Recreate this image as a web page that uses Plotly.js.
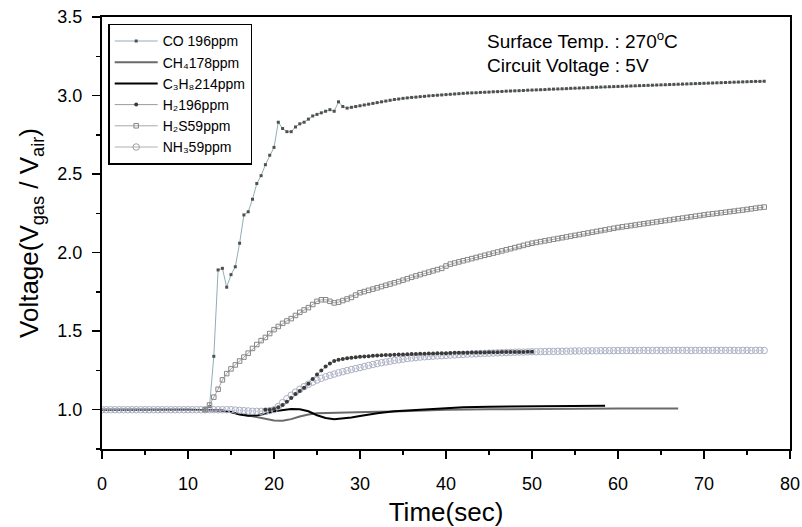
<!DOCTYPE html>
<html>
<head>
<meta charset="utf-8">
<script src="https://cdn.plot.ly/plotly-3.0.1.min.js"></script>
<style>html,body{margin:0;padding:0;background:#fff;}#chart{width:802px;height:527px;}</style>
</head>
<body>
<div id="chart"></div>
<script>
// Sampling grid (sec), 0.5 s steps
const time = [
0,0.5,1,1.5,2,2.5,3,3.5,4,4.5,5,5.5,6,6.5,7,7.5,8,8.5,9,9.5,
10,10.5,11,11.5,12,12.5,13,13.5,14,14.5,15,15.5,16,16.5,17,17.5,18,18.5,19,19.5,
20,20.5,21,21.5,22,22.5,23,23.5,24,24.5,25,25.5,26,26.5,27,27.5,28,28.5,29,29.5,
30,30.5,31,31.5,32,32.5,33,33.5,34,34.5,35,35.5,36,36.5,37,37.5,38,38.5,39,39.5,
40,40.5,41,41.5,42,42.5,43,43.5,44,44.5,45,45.5,46,46.5,47,47.5,48,48.5,49,49.5,
50,50.5,51,51.5,52,52.5,53,53.5,54,54.5,55,55.5,56,56.5,57,57.5,58,58.5,59,59.5,
60,60.5,61,61.5,62,62.5,63,63.5,64,64.5,65,65.5,66,66.5,67,67.5,68,68.5,69,69.5,
70,70.5,71,71.5,72,72.5,73,73.5,74,74.5,75,75.5,76,76.5,77
];

// CO 196ppm, from 12 s
const coStart = 12;
const coValues = [
1.0,1.02,1.34,1.89,1.90,1.78,1.86,1.91,2.06,2.24,
2.26,2.34,2.44,2.49,2.56,2.62,2.67,2.83,2.79,2.77,
2.77,2.80,2.82,2.83,2.85,2.87,2.88,2.89,2.90,2.91,
2.90,2.96,2.93,2.92,2.925,2.93,2.935,2.94,2.945,2.95,
2.955,2.96,2.965,2.97,2.975,2.978,2.982,2.985,2.988,2.99,
2.993,2.995,2.998,3.0,3.002,3.004,3.006,
3.008,3.01,3.012,3.014,3.016,3.017,3.018,3.02,3.021,3.022,
3.024,3.025,3.026,3.028,3.029,3.03,3.031,3.032,3.034,3.035,
3.036,3.037,3.038,3.04,3.041,3.042,3.043,3.044,3.046,3.047,
3.048,3.049,3.05,3.052,3.053,3.054,3.055,3.056,3.057,3.058,
3.059,3.06,3.061,3.062,3.063,3.064,3.065,3.066,3.067,3.068,
3.069,3.07,3.071,3.072,3.073,3.074,3.075,3.076,3.077,3.078,
3.079,3.08,3.081,3.082,3.083,3.084,3.085,3.086,3.087,3.088,
3.089,3.09,3.09,3.091
];

// CH4 178ppm (grey solid line)
const ch4Time = [0,5,10,14,15,16,17,18,19,20,21,22,23,24,25,26,28,30,32,34,36,38,40,45,50,53,54,60,67];
const ch4Values = [1,1,1,0.995,0.985,0.975,0.965,0.955,0.945,0.932,0.93,0.94,0.957,0.97,0.977,0.979,0.982,0.985,0.987,0.989,0.993,0.997,1.0,1.003,1.005,1.006,1.008,1.008,1.008];

// C3H8 214ppm (black solid line)
const c3h8Time = [0,5,10,14,15,16,17,18,19,20,21,22,23,24,25,26,27,28,29,30,31,32,34,36,38,40,42,45,50,55,58.5];
const c3h8Values = [1,1,1,0.995,0.985,0.97,0.962,0.965,0.975,0.99,0.998,1.004,1.003,0.99,0.965,0.948,0.94,0.943,0.95,0.96,0.97,0.978,0.99,0.997,1.003,1.008,1.015,1.019,1.022,1.025,1.025];

// H2 196ppm, from 19 s
const h2Start = 19;
const h2Values = [
1.0,1.0,1.005,1.015,1.03,1.05,1.075,1.1,1.12,1.14,
1.165,1.195,1.225,1.25,1.275,1.295,1.31,1.318,1.323,1.327,
1.331,1.334,1.337,1.339,1.341,1.343,1.345,1.346,1.348,1.349,
1.35,1.351,1.352,1.353,1.354,1.355,1.356,1.357,1.358,1.358,
1.359,1.36,1.36,1.361,1.362,1.362,1.363,1.363,1.364,1.364,
1.365,1.365,1.366,1.366,1.366,1.367,1.367,1.367,1.368,1.368,
1.368,1.369,1.369
];

// H2S 59ppm, from 12 s
const h2sStart = 12;
const h2sValues = [
1.0,1.03,1.08,1.13,1.19,1.23,1.26,1.285,1.31,1.335,
1.36,1.39,1.415,1.44,1.46,1.485,1.51,1.53,1.55,1.565,
1.58,1.60,1.62,1.635,1.65,1.67,1.69,1.70,1.70,1.69,
1.68,1.685,1.695,1.705,1.715,1.73,1.745,1.752,1.76,1.768,
1.776,1.784,1.792,1.80,1.808,1.816,1.825,1.834,1.843,1.852,
1.86,1.868,1.876,1.884,1.892,1.90,1.915,
1.927,1.934,1.941,1.948,1.955,1.962,1.969,1.976,1.983,1.99,
1.997,2.004,2.011,2.018,2.025,2.032,2.039,2.046,2.053,2.06,
2.065,2.07,2.075,2.08,2.085,2.09,2.095,2.10,2.105,2.11,
2.115,2.12,2.125,2.13,2.135,2.14,2.145,2.15,2.155,2.16,
2.164,2.168,2.172,2.176,2.18,2.184,2.188,2.192,2.196,2.20,
2.204,2.208,2.212,2.216,2.22,2.224,2.228,2.232,2.236,2.24,
2.244,2.247,2.25,2.254,2.257,2.261,2.264,2.268,2.271,2.275,
2.279,2.283,2.287,2.29
];

// NH3 59ppm, from 0 s
const nh3Start = 0;
const nh3Values = [
1,1,1,1,1,1,1,1,1,1,
1,1,1,1,1,1,1,1,1,1,
1,1,1,1,1,1,1,1,1,1,
1.0,0.998,0.996,0.994,0.992,0.99,0.99,0.99,0.991,0.994,
1.0,1.02,1.045,1.07,1.092,1.112,1.13,1.147,1.162,1.176,
1.189,1.2,1.21,1.219,1.227,1.235,1.242,1.249,1.256,1.262,
1.268,1.275,1.282,1.288,1.294,1.299,1.304,1.309,1.314,1.318,
1.322,1.326,1.329,1.332,1.335,1.337,1.339,1.341,1.343,1.344,
1.346,1.348,1.349,1.351,1.352,1.354,1.355,1.356,1.358,1.359,
1.36,1.361,1.362,1.363,1.364,1.365,1.366,1.367,1.367,1.368,
1.369,1.369,1.37,1.37,1.371,1.371,1.372,1.372,1.373,1.373,
1.374,1.374,1.374,1.375,1.375,1.375,1.376,1.376,1.376,1.376,
1.377,1.377,1.377,1.377,1.377,1.377,1.378,1.377,1.377,1.378,
1.378,1.377,1.378,1.378,1.378,1.378,1.378,1.377,1.378,1.378,
1.378,1.378,1.378,1.378,1.378,1.378,1.378,1.378,1.377,1.378,
1.378,1.377,1.378,1.378,1.377
];

const legendNames = ['CO 196ppm','CH\u2084178ppm','C\u2083H\u2088214ppm','H\u2082196ppm','H\u2082S59ppm','NH\u208359ppm'];
const yTickVals = [1.0,1.5,2.0,2.5,3.0,3.5];
const xTickVals = [0,10,20,30,40,50,60,70,80];
const noteLines = ['Surface Temp. : 270<sup>o</sup>C', 'Circuit Voltage : 5V'];

function sliceTime(start, n){ const i = time.indexOf(start); return time.slice(i, i + n); }

const FONT = 'Arial, "Liberation Sans", sans-serif';

const traces = [
  {x: sliceTime(coStart, coValues.length), y: coValues, name: legendNames[0], mode: 'lines+markers',
   line: {color: '#8fb0b4', width: 1}, marker: {symbol: 'square', size: 3, color: '#505050'}},
  {x: ch4Time, y: ch4Values, name: legendNames[1], mode: 'lines',
   line: {color: '#6a6a6a', width: 2}},
  {x: c3h8Time, y: c3h8Values, name: legendNames[2], mode: 'lines',
   line: {color: '#000000', width: 2}},
  {x: sliceTime(nh3Start, nh3Values.length), y: nh3Values, name: legendNames[5], mode: 'lines+markers',
   line: {color: '#d0d0d8', width: 0.8}, marker: {symbol: 'circle-open', size: 6.5, color: '#aab0c4', line: {width: 1}}, showlegend: false},
  {x: sliceTime(h2Start, h2Values.length), y: h2Values, name: legendNames[3], mode: 'lines+markers',
   line: {color: '#9a9a9a', width: 1}, marker: {symbol: 'circle', size: 4, color: '#3a3a3a'}},
  {x: sliceTime(h2sStart, h2sValues.length), y: h2sValues, name: legendNames[4], mode: 'lines+markers',
   line: {color: '#a8a8a8', width: 1}, marker: {symbol: 'square-open', size: 4.5, color: '#858585', line: {width: 1}}},
  // legend-only entry for NH3 to keep legend order
  {x: [null], y: [null], name: legendNames[5], mode: 'lines+markers',
   line: {color: '#b0b0b0', width: 1}, marker: {symbol: 'circle-open', size: 6.5, color: '#a0a0a0', line: {width: 1}}}
];

const layout = {
  width: 802, height: 527,
  margin: {l: 102, r: 12, t: 17, b: 78},
  paper_bgcolor: '#ffffff', plot_bgcolor: '#ffffff',
  font: {family: FONT, color: '#000'},
  showlegend: true,
  legend: {x: 0.009, y: 0.984, xanchor: 'left', yanchor: 'top', bgcolor: '#ffffff',
    bordercolor: '#000', borderwidth: 1.5, font: {family: FONT, size: 14, color: '#000'},
    traceorder: 'normal', tracegroupgap: 0, itemwidth: 43},
  xaxis: {range: [0, 80], tickvals: xTickVals, ticks: 'outside', ticklen: 8, tickwidth: 1.5,
    tickcolor: '#000', showline: true, linewidth: 2, linecolor: '#000', mirror: true,
    showgrid: false, zeroline: false, tickfont: {family: FONT, size: 18}, ticklabelstandoff: 9,
    minor: {dtick: 5, ticks: 'outside', ticklen: 4, tickwidth: 1.5, tickcolor: '#000', showgrid: false},
    title: {text: 'Time(sec)', font: {family: FONT, size: 26}, standoff: 10}},
  yaxis: {range: [0.75, 3.5], tickvals: yTickVals, tickformat: '.1f', ticks: 'outside', ticklen: 8, tickwidth: 1.5,
    tickcolor: '#000', showline: true, linewidth: 2, linecolor: '#000', mirror: true,
    showgrid: false, zeroline: false, tickfont: {family: FONT, size: 18}, ticklabelstandoff: 6,
    minor: {tick0: 0, dtick: 0.25, ticks: 'outside', ticklen: 4, tickwidth: 1.5, tickcolor: '#000', showgrid: false},
    title: {text: 'Voltage(V<sub>gas</sub> / V<sub>air</sub>)', font: {family: FONT, size: 26}, standoff: 11}},
  annotations: [
    {xref: 'paper', yref: 'paper', x: 0.556, y: (449 - 40) / 432, xanchor: 'left', yanchor: 'middle', align: 'left', showarrow: false,
     text: noteLines[0], font: {family: FONT, size: 19, color: '#000'}},
    {xref: 'paper', yref: 'paper', x: 0.556, y: (449 - 65) / 432, xanchor: 'left', yanchor: 'middle', align: 'left', showarrow: false,
     text: noteLines[1], font: {family: FONT, size: 19, color: '#000'}}
  ]
};

Plotly.newPlot('chart', traces, layout, {displayModeBar: false, staticPlot: true});
</script>
</body>
</html>
